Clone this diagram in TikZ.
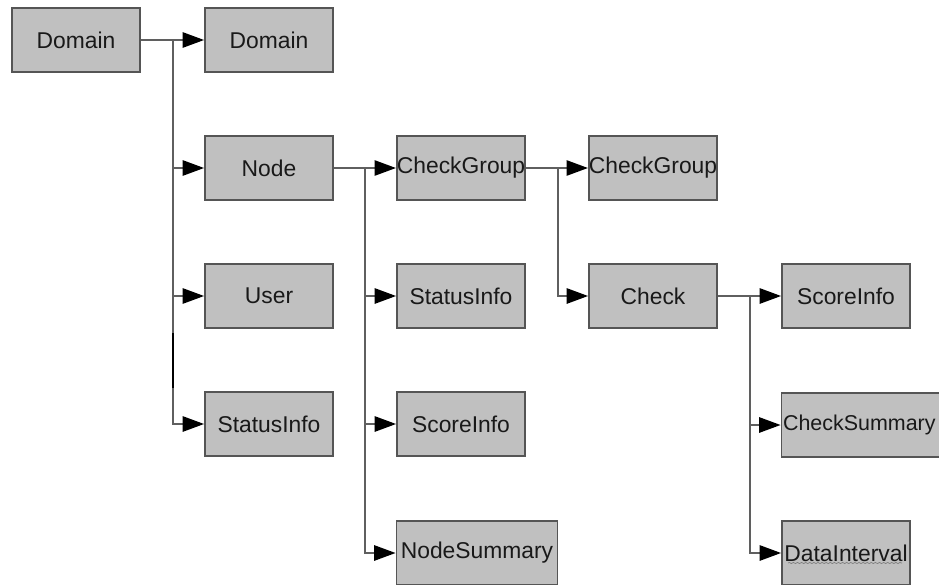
\documentclass[tikz,border=0pt]{standalone}
\usepackage{fontspec}
\setmainfont{Liberation Sans}
\usetikzlibrary{arrows.meta,decorations.pathmorphing}

\definecolor{boxfill}{RGB}{192,192,192}
\definecolor{boxline}{RGB}{85,85,85}
\definecolor{linecol}{RGB}{95,95,95}
\definecolor{txt}{RGB}{25,25,25}

\begin{document}
\begin{tikzpicture}[x=0.03cm, y=-0.03cm,
  every node/.style={font=\fontsize{19.5}{23}\selectfont},
  cls/.style={draw=boxline, fill=boxfill, line width=1.6pt, minimum width=3.84cm,
    minimum height=1.92cm, inner sep=0pt, text=txt},
  link/.style={draw=linecol, line width=1.3pt,
    -{Triangle[length=0.64cm, width=0.46cm, color=black]}}]
  \useasboundingbox (0,0) rectangle (939,585);

  % Classes, first column
  \node[cls] (domA) at (76,40) {Domain};
  \node[cls] (domB) at (269,40) {Domain};
  \node[cls] (nodeC) at (269,168) {Node};
  \node[cls] (user) at (269,296) {User};
  \node[cls] (statA) at (269,424) {StatusInfo};

  % Children of Node
  \node[cls] (grpA) at (461,168) {CheckGroup};
  \node[cls] (statB) at (461,296) {StatusInfo};
  \node[cls] (scoreA) at (461,424) {ScoreInfo};
  \node[cls, minimum width=4.83cm] (nsum) at (477,553) {NodeSummary};

  % Children of CheckGroup
  \node[cls] (grpB) at (653,168) {CheckGroup};
  \node[cls] (check) at (653,296) {Check};

  % Children of Check
  \node[cls] (scoreB) at (846,296) {ScoreInfo};
  \node[cls, minimum width=4.77cm, font=\fontsize{18.3}{22}\selectfont]
    (csum) at (861,425) {\hspace*{-0.1cm}CheckSummary};
  \node[cls] (dint) at (846,553) {DataInterval};

  % Branch points
  \coordinate (t1) at (173,40);
  \coordinate (t2) at (365,168);
  \coordinate (t3) at (558,168);
  \coordinate (t4) at (750,296);

  % Connectors
  \draw[link] (domA) -- (domB);
  \draw[link] (t1) |- (nodeC.west);
  \draw[link] (t1) |- (user.west);
  \draw[link] (t1) |- (statA.west);
  \draw[black, line width=2.2pt] (173,333) -- (173,388);

  \draw[link] (nodeC) -- (grpA);
  \draw[link] (t2) |- (statB.west);
  \draw[link] (t2) |- (scoreA.west);
  \draw[link] (t2) |- (nsum.west);

  \draw[link] (grpA) -- (grpB);
  \draw[link] (t3) |- (check.west);

  \draw[link] (check) -- (scoreB);
  \draw[link] (t4) |- (csum.west);
  \draw[link] (t4) |- (dint.west);

  % spell-check squiggle
  \draw[gray, line width=0.6pt, decorate,
    decoration={snake, amplitude=0.5pt, segment length=3.5pt}]
    (788,563) -- (902,563);
\end{tikzpicture}
\end{document}
